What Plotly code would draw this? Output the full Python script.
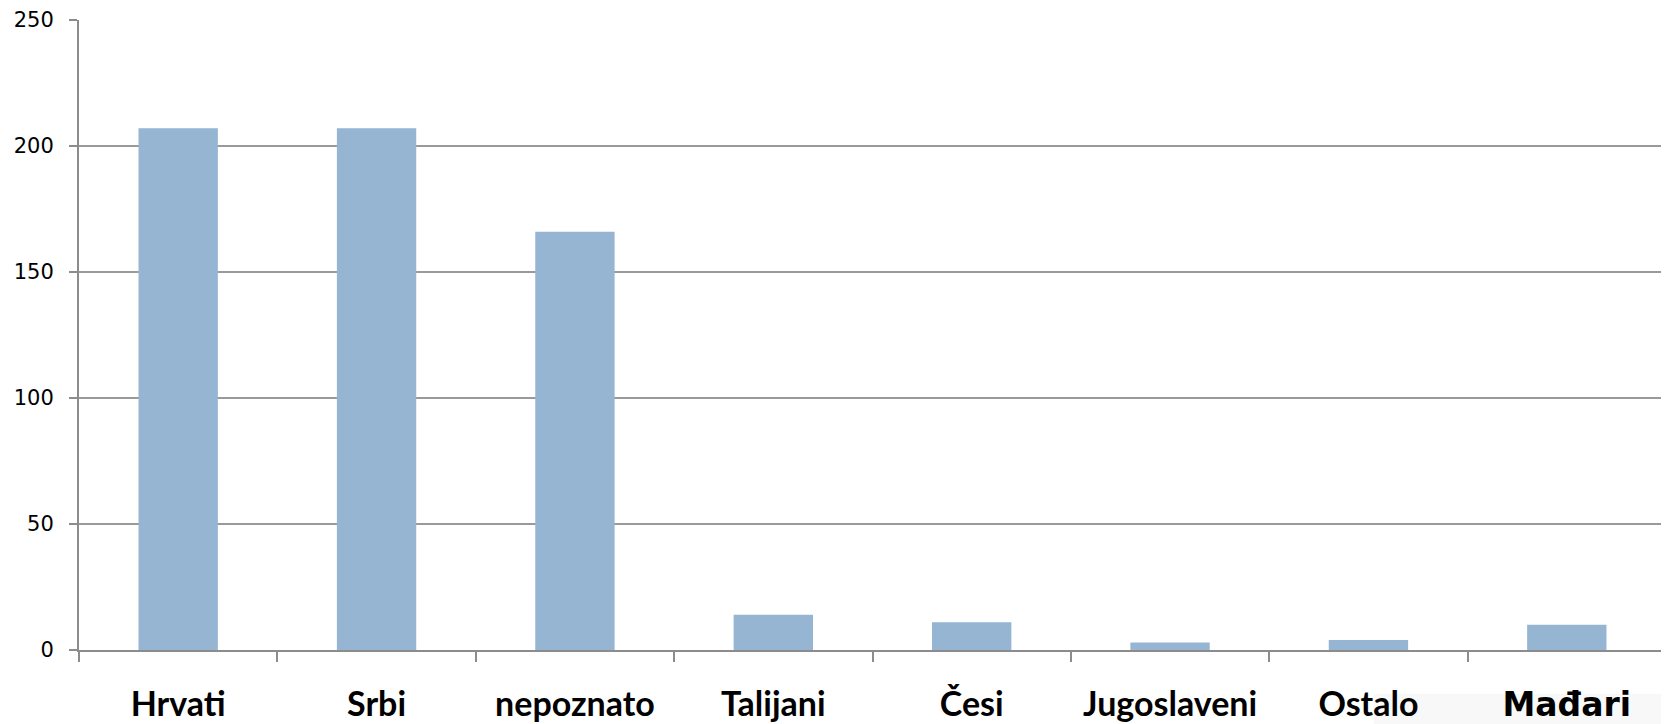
import plotly.graph_objects as go

categories = ["Hrvati", "Srbi", "nepoznato", "Talijani", "Česi", "Jugoslaveni", "Ostalo", "Mađari"]
values = [207, 207, 166, 14, 11, 3, 4, 10]
tick_labels = ["<b>Hrvati</b>", "<b>Srbi</b>", "<b>nepoznato</b>", "<b>Talijani</b>", "<b>Česi</b>",
               "<b>Jugoslaveni</b>", "<b>Ostalo</b>",
               "<span style='font-family:DejaVu Sans;font-size:33px'><b>Mađari</b></span>"]
y_ticks = [0, 50, 100, 150, 200, 250]

fig = go.Figure(go.Bar(
    x=categories, y=values,
    marker=dict(color="#95b5d3", line=dict(width=0)),
    width=0.4,
))

# page body has an 8px default margin; figure is sized to fit the window
fig.update_layout(
    width=1661, height=716,
    margin=dict(l=71, r=3, t=12, b=74),
    plot_bgcolor="white", paper_bgcolor="white",
    showlegend=False,
    bargap=0.6,
    font=dict(family="Lato, Open Sans, sans-serif", color="black"),
    shapes=[dict(type="rect", xref="paper", yref="paper", x0=0.816, x1=1.01, y0=-0.2, y1=-0.07,
                 fillcolor="#f8f8f8", line=dict(width=0), layer="below")],
)
fig.update_xaxes(
    tickmode="array", tickvals=categories, ticktext=tick_labels,
    tickfont=dict(size=34, family="Lato, sans-serif", color="black"),
    showline=True, linecolor="#8c8c8c", linewidth=2,
    ticks="outside", tickson="boundaries", ticklen=10, tickwidth=2, tickcolor="#8c8c8c",
    ticklabelstandoff=23,
    showgrid=False, automargin=False,
)
fig.update_yaxes(
    range=[0, 250], tickmode="array", tickvals=y_ticks,
    tickfont=dict(size=21, family="DejaVu Sans, sans-serif", color="black"),
    showline=True, linecolor="#8c8c8c", linewidth=2,
    ticks="outside", ticklen=8, tickwidth=2, tickcolor="#8c8c8c",
    showgrid=True, gridcolor="#9a9a9a", gridwidth=1.5,
    zeroline=False, automargin=False,
    ticklabelstandoff=11,
)

fig.write_html("out.html")
